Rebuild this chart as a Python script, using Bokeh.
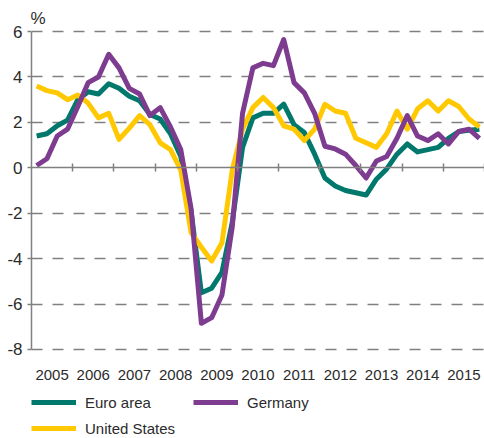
from bokeh.plotting import figure
from bokeh.models import Range1d, LinearAxis, FixedTicker, Legend, LegendItem
from bokeh.core.properties import value
from bokeh.embed import file_html
from bokeh.resources import INLINE

# ---- data (annual growth, %, quarterly) ----
years = [2005, 2006, 2007, 2008, 2009, 2010, 2011, 2012, 2013, 2014, 2015]
quarters = [f"{y}Q{q}" for y in years for q in (1, 2, 3, 4)]

euro_area = [1.4, 1.5, 1.85, 2.1, 3.0, 3.35, 3.25, 3.7, 3.5, 3.15, 2.95, 2.35,
             2.15, 1.5, 0.5, -1.9, -5.5, -5.3, -4.6, -2.4, 0.9, 2.2, 2.4, 2.4,
             2.8, 1.9, 1.55, 0.6, -0.45, -0.8, -1.0, -1.1, -1.2, -0.5, -0.05, 0.6,
             1.05, 0.7, 0.8, 0.9, 1.3, 1.6, 1.65, 1.7]
germany = [0.1, 0.4, 1.4, 1.7, 2.7, 3.75, 4.0, 5.0, 4.4, 3.5, 3.25, 2.3,
           2.65, 1.8, 0.8, -1.8, -6.85, -6.6, -5.6, -2.6, 2.4, 4.4, 4.6, 4.5,
           5.65, 3.75, 3.3, 2.4, 0.95, 0.83, 0.6, 0.1, -0.45, 0.3, 0.5, 1.3,
           2.3, 1.4, 1.2, 1.5, 1.05, 1.6, 1.7, 1.3]
united_states = [3.6, 3.4, 3.3, 3.0, 3.2, 2.85, 2.2, 2.4, 1.25, 1.75, 2.3, 1.9,
                 1.1, 0.8, -0.1, -2.85, -3.5, -4.1, -3.3, -0.1, 1.7, 2.65, 3.1, 2.65,
                 1.85, 1.7, 1.2, 1.7, 2.8, 2.5, 2.4, 1.3, 1.1, 0.9, 1.5, 2.5,
                 1.7, 2.6, 2.95, 2.5, 2.95, 2.7, 2.15, 1.8]
y_ticks = [-8, -6, -4, -2, 0, 2, 4, 6]
colors = ["#00786C", "#7D3C8F", "#FFC800"]

# quarter mid-points on a decimal-year axis
xq = [int(q[:4]) + (int(q[5]) - 0.5) / 4 for q in quarters]

FONT = "Liberation Sans, Arial, sans-serif"
GRAY = "#808080"
TXT = "#2b2b2b"

# frame runs from the top of the chart down to the bottom of the page,
# so the year labels and the legend sit inside it
p = figure(width=484, height=438, output_backend="svg", toolbar_location=None,
           x_range=Range1d(2005, 2016), y_range=Range1d(-11.92, 6.09),
           x_axis_location=None,
           min_border_left=31, min_border_right=0, min_border_top=29,
           min_border_bottom=0)
p.outline_line_color = None
p.background_fill_color = "white"
p.border_fill_color = "white"

p.title.text = "%"
p.title.align = "left"
p.title.offset = -1
p.title.standoff = 3
p.title.text_font = FONT
p.title.text_font_size = "17px"
p.title.text_font_style = "normal"
p.title.text_color = TXT

# y axis
ya = p.yaxis[0]
ya.ticker = FixedTicker(ticks=y_ticks)
ya.major_label_overrides = {t: str(t) for t in y_ticks}
ya.bounds = (-8, 6)
ya.axis_line_color = GRAY
ya.axis_line_width = 1.5
ya.major_tick_line_color = GRAY
ya.major_tick_line_width = 1.5
ya.major_tick_out = 4
ya.major_tick_in = 0
ya.minor_tick_line_color = None
ya.major_label_standoff = 5
ya.major_label_text_font = FONT
ya.major_label_text_font_size = "17px"
ya.major_label_text_color = TXT

# zero line with year-boundary ticks
za = LinearAxis(fixed_location=0, ticker=FixedTicker(ticks=years[1:] + [2016]),
                major_label_text_font_size="0px", major_label_text_color=None,
                axis_line_color=GRAY, axis_line_width=1.5,
                major_tick_line_color=GRAY, major_tick_line_width=1.5,
                major_tick_in=4, major_tick_out=4, minor_tick_line_color=None,
                major_label_standoff=0)
p.add_layout(za, "below")

# grid
p.xgrid.visible = False
p.ygrid.ticker = FixedTicker(ticks=[t for t in y_ticks if t != 0])
p.ygrid.grid_line_color = GRAY
p.ygrid.grid_line_width = 1.5
p.ygrid.grid_line_dash = "11 10"

# year labels, centred on each year, below the -8 line
p.text(x=[y + 0.5 for y in years], y=[min(y_ticks)] * len(years),
       text=[str(y) for y in years], y_offset=26,
       text_align="center", text_baseline="middle",
       text_font=value(FONT), text_font_size="15px", text_color=TXT)

# lines
ea = p.line(xq, euro_area, line_color=colors[0], line_width=5, line_join="round")
us = p.line(xq, united_states, line_color=colors[2], line_width=5, line_join="round")
de = p.line(xq, germany, line_color=colors[1], line_width=5, line_join="round")

common = dict(orientation="vertical", glyph_width=45, glyph_height=18,
              label_height=18, label_standoff=9, spacing=8, padding=0, margin=0,
              border_line_color=None, background_fill_alpha=0,
              label_text_font=FONT, label_text_font_size="15px",
              label_text_color=TXT)
leg1 = Legend(items=[LegendItem(label="Euro area", renderers=[ea]),
                     LegendItem(label="United States", renderers=[us])],
              location=(0, 1), **common)
leg2 = Legend(items=[LegendItem(label="Germany", renderers=[de])],
              location=(162, 27), **common)
p.add_layout(leg1, "center")
p.add_layout(leg2, "center")

open("out.html", "w").write(file_html(p, INLINE))
